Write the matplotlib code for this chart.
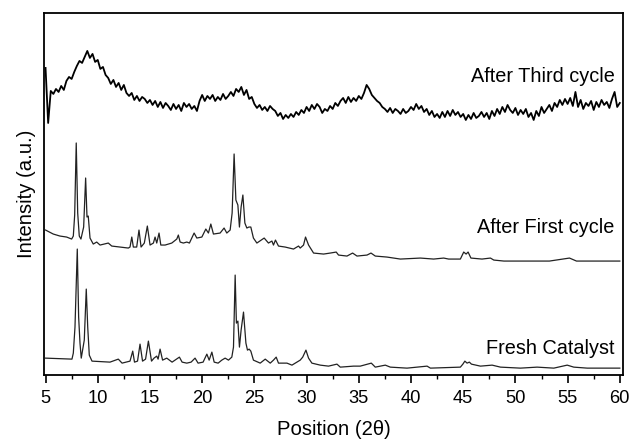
import numpy as np
import matplotlib
matplotlib.use("Agg")
import matplotlib.pyplot as plt
from matplotlib.ticker import MultipleLocator

plt.rcParams['font.family'] = ['Liberation Sans', 'DejaVu Sans']

# --- Fresh catalyst (2theta, intensity a.u.) ---
fresh_x = [5.0, 7.53, 7.66, 7.82, 8.04, 8.17, 8.30, 8.42, 8.71, 8.90, 9.04, 9.19, 9.45,
           11.17, 11.97, 12.33, 13.09, 13.35, 13.52, 13.81, 14.05, 14.29, 14.58, 14.85,
           15.15, 15.39, 15.65, 15.78, 15.97, 16.21, 16.61, 17.12, 17.82, 18.08, 18.53,
           18.94, 19.32, 19.61, 20.09, 20.45, 20.67, 20.93, 21.15, 21.53, 21.88, 22.20,
           22.52, 22.84, 23.00, 23.16, 23.28, 23.42, 23.57, 23.73, 23.96, 24.19, 24.34,
           24.50, 24.66, 24.91, 25.56, 26.04, 26.52, 26.83, 27.09, 27.31, 28.12, 28.60,
           29.39, 29.63, 29.94, 30.19, 30.51, 31.31, 32.10, 32.91, 33.23, 34.50, 35.14,
           36.20, 36.58, 37.54, 38.02, 39.62, 41.54, 41.86, 44.73, 44.97, 45.16, 45.37,
           45.59, 45.79, 46.65, 47.77, 48.57, 50.48, 52.08, 53.68, 54.96, 55.59, 56.88,
           59.78, 60.0]
fresh_y = [17, 16, 22, 48, 126, 58, 32, 17, 35, 86, 48, 20, 14,
           13, 16, 12, 14, 24, 13, 14, 31, 14, 16, 34,
           14, 17, 19, 16, 26, 15, 17, 13, 18, 13, 12,
           13, 17, 12, 13, 21, 15, 23, 13, 12, 15, 17,
           15, 18, 28, 100, 52, 54, 28, 45, 63, 32, 25,
           26, 24, 15, 12, 16, 12, 15, 18, 12, 12, 10,
           15, 18, 25, 17, 12, 10, 9, 11, 8, 9, 9,
           12, 8, 10, 8, 7, 9, 7, 8, 11, 14, 12,
           13, 11, 9, 10, 8, 7, 8, 7, 10, 8, 7,
           7, 7]

# --- After first cycle ---
first_x = [5.0, 5.74, 6.38, 7.02, 7.50, 7.66, 7.79, 7.94, 8.08, 8.23, 8.39, 8.65, 8.84,
           8.97, 9.09, 9.26, 9.57, 9.90, 10.22, 11.01, 11.34, 12.93, 13.09, 13.26, 13.41,
           13.73, 13.95, 14.15, 14.46, 14.75, 15.01, 15.33, 15.49, 15.65, 15.87, 16.04,
           16.45, 17.09, 17.57, 17.72, 17.89, 18.20, 18.53, 18.78, 19.23, 19.49, 19.97,
           20.35, 20.60, 20.83, 21.08, 21.72, 22.10, 22.36, 22.68, 22.87, 23.06, 23.23,
           23.42, 23.57, 23.73, 23.90, 24.09, 24.28, 24.47, 24.66, 24.91, 25.24, 25.94,
           26.35, 26.68, 26.83, 27.02, 27.31, 27.95, 28.75, 29.23, 29.39, 29.71, 29.90,
           30.19, 30.67, 31.63, 32.27, 32.84, 33.06, 33.87, 34.41, 34.83, 35.79, 36.17,
           36.58, 37.70, 38.98, 40.90, 42.17, 43.13, 43.61, 44.73, 45.05, 45.28, 45.47,
           45.74, 46.80, 47.61, 47.93, 48.90, 50.68, 53.26, 55.18, 55.85, 57.77, 60.0]
first_y = [145, 141, 139, 138, 136, 139, 160, 232, 162, 139, 136, 148, 197,
           158, 159, 137, 131, 133, 130, 132, 129, 127, 128, 138, 128,
           128, 145, 128, 132, 149, 130, 132, 138, 132, 142, 130,
           130, 132, 136, 140, 133, 132, 133, 132, 142, 137, 138,
           146, 142, 151, 141, 142, 147, 142, 145, 162, 221, 175,
           170, 148, 168, 180, 152, 147, 148, 148, 137, 132, 137,
           132, 134, 130, 135, 129, 128, 126, 129, 127, 130, 138,
           130, 122, 121, 122, 123, 120, 119, 122, 119, 120, 122,
           119, 118, 116, 117, 116, 117, 116, 116, 123, 121, 123,
           117, 116, 117, 115, 114, 114, 114, 117, 114, 114, 114]

# --- After third cycle, read every 0.25 deg from 5 to 60 ---
third_step = 0.25
third_y = [307, 252, 284, 281, 286, 283, 289, 285,
           294, 298, 296, 303, 309, 314, 312, 318,
           324, 317, 321, 313, 315, 306, 308, 300,
           297, 291, 295, 288, 292, 285, 290, 282,
           279, 282, 275, 279, 274, 278, 276, 272,
           275, 270, 274, 268, 273, 267, 272, 269,
           265, 271, 266, 270, 264, 272, 268, 271,
           266, 269, 264, 274, 280, 274, 279, 276,
           280, 274, 278, 275, 281, 276, 279, 283,
           279, 286, 283, 288, 280, 285, 276, 278,
           271, 267, 270, 265, 268, 264, 269, 266,
           264, 259, 262, 256, 260, 257, 261, 258,
           263, 260, 265, 262, 268, 264, 270, 266,
           271, 268, 262, 266, 264, 269, 266, 272,
           269, 274, 277, 272, 278, 273, 277, 274,
           279, 276, 282, 290, 286, 280, 277, 274,
           272, 268, 266, 263, 267, 262, 266, 264,
           261, 266, 262, 264, 268, 265, 271, 266,
           269, 263, 266, 260, 264, 258, 261, 257,
           263, 258, 264, 259, 265, 260, 263, 258,
           261, 255, 260, 256, 262, 257, 259, 263,
           258, 262, 256, 264, 259, 266, 261, 268,
           263, 270, 265, 262, 267, 260, 265, 261,
           266, 258, 262, 255, 264, 259, 268, 262,
           266, 270, 264, 272, 268, 275, 270, 276,
           271, 277, 269, 283, 268, 275, 266, 272,
           269, 274, 265, 273, 268, 275, 270, 273,
           267, 276, 283, 268, 272]
third_x = 5.0 + third_step * np.arange(len(third_y))

labels = ["After Third cycle", "After First cycle", "Fresh Catalyst"]
label_y = [298, 148, 27]

fig = plt.figure(figsize=(6.3, 4.45), dpi=100)
ax = fig.add_axes([0.0698, 0.157, 0.919, 0.814])

ax.plot(third_x, third_y, color='black', lw=1.3)
ax.plot(first_x, first_y, color='#222222', lw=0.9)
ax.plot(fresh_x, fresh_y, color='#222222', lw=0.9)

for txt, yy in zip(labels, label_y):
    ax.text(59.5, yy, txt, ha='right', va='center', fontsize=14.3)

ax.set_xlim(4.85, 60.3)
ax.set_ylim(0, 362)
ax.xaxis.set_major_locator(MultipleLocator(5))
ax.xaxis.set_minor_locator(MultipleLocator(2.5))
ax.tick_params(axis='x', which='major', direction='out', length=6, width=1.2,
               labelsize=13.2, pad=5)
ax.tick_params(axis='x', which='minor', direction='out', length=3, width=1.0)
ax.set_yticks([])
for sp in ax.spines.values():
    sp.set_linewidth(1.3)

ax.set_xlabel("Position (2θ)", fontsize=14.6, labelpad=9)
ax.set_ylabel("Intensity (a.u.)", fontsize=14.6, labelpad=6)

fig.savefig("out.png", dpi=100)
